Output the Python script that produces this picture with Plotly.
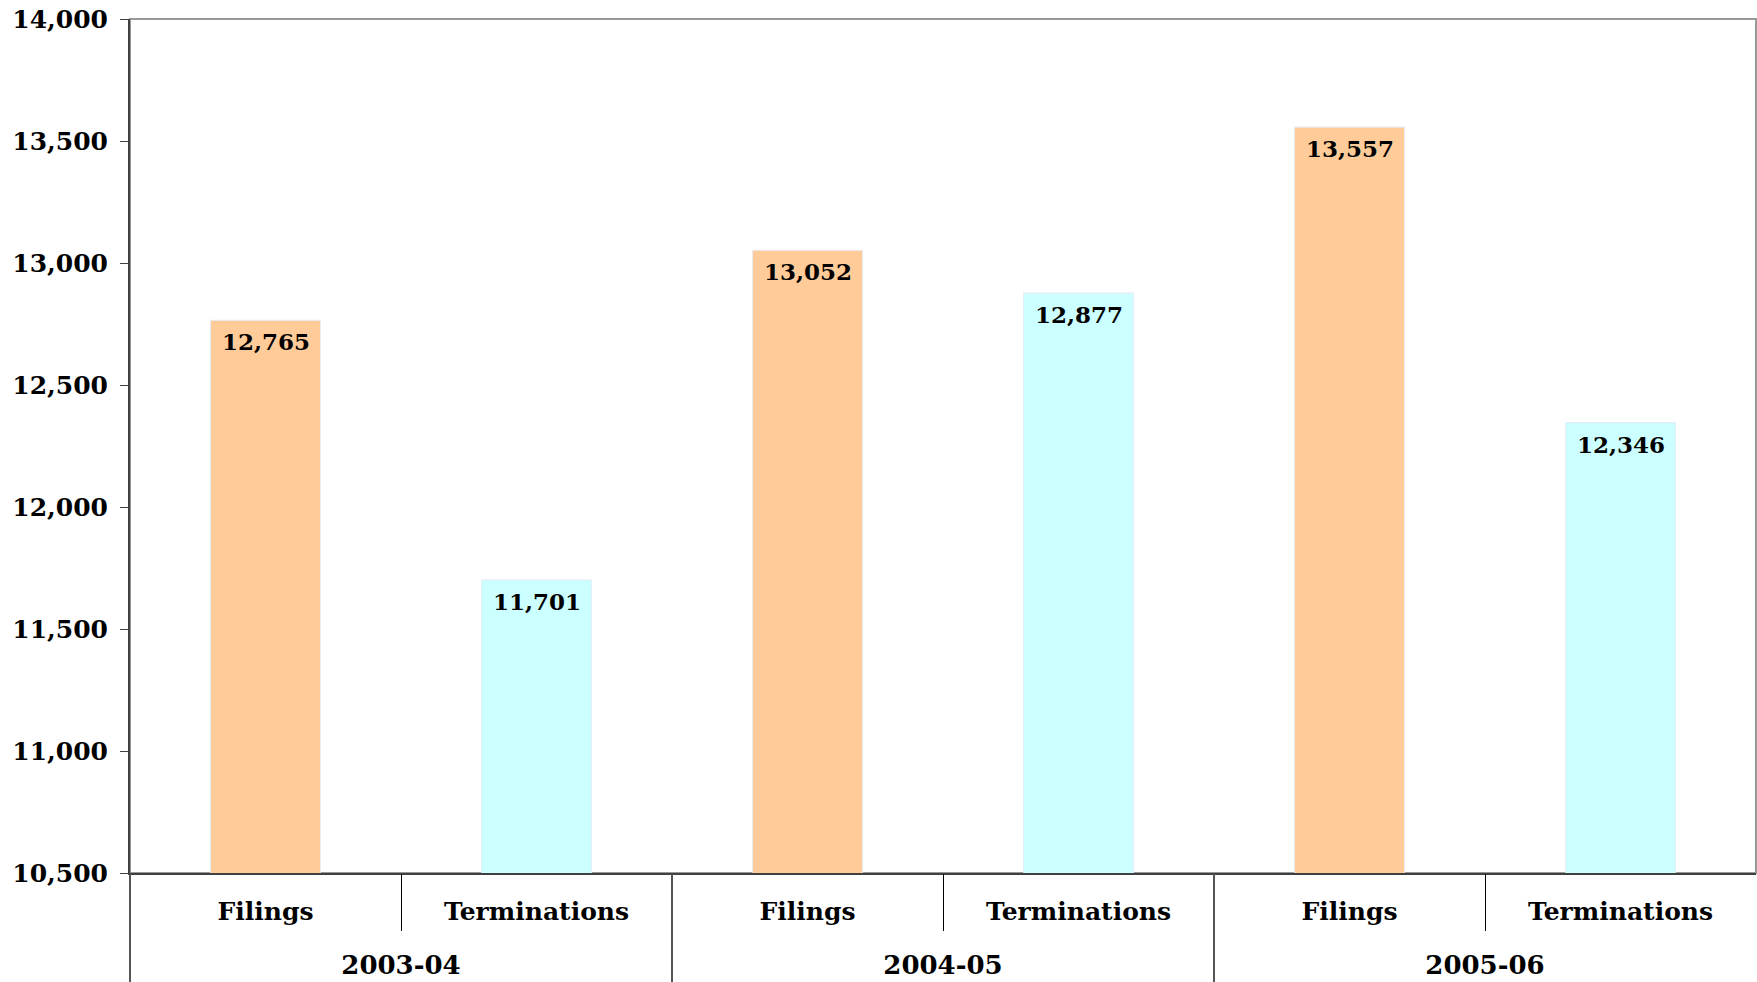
import plotly.graph_objects as go

years = ["2003-04", "2004-05", "2005-06"]
kinds = ["Filings", "Terminations"]
filings = [12765, 13052, 13557]
terminations = [11701, 12877, 12346]
y_range = [10500, 14000]

FONT = "DejaVu Serif"
ORANGE, CYAN = "#FFCC99", "#CCFFFF"

# flatten into 6 bars: each year -> Filings, Terminations
values, labels, colors = [], [], []
for f, t in zip(filings, terminations):
    values += [f, t]
    labels += kinds
    colors += [ORANGE, CYAN]
pos = list(range(len(values)))
n_in = len(kinds)
group_centers = [g * n_in + (n_in - 1) / 2 for g in range(len(years))]
inner_bounds = [g * n_in + k + 0.5 for g in range(len(years)) for k in range(n_in - 1)]
group_bounds = [g * n_in - 0.5 for g in range(len(years))]
x_range = [-0.5, len(values) - 0.5]

fig = go.Figure()
fig.add_trace(go.Bar(
    x=pos, y=values,
    marker=dict(color=colors, line=dict(width=0)),
    showlegend=False,
))
for ax in ["x2", "x3", "x4"]:
    fig.add_trace(go.Bar(x=pos, y=values, xaxis=ax, marker=dict(color="rgba(0,0,0,0)"),
                         hoverinfo="skip", showlegend=False))

# value labels just inside the top of each bar
for p, v in zip(pos, values):
    fig.add_annotation(x=p, y=v, xref="x", yref="y", text=f"{v:,}", showarrow=False,
                       yanchor="top", yshift=-6,
                       font=dict(family=FONT, size=23, color="black", weight="bold"))

common = dict(range=x_range, showgrid=False, zeroline=False, automargin=False)
fig.update_layout(
    width=1757, height=982,
    margin=dict(l=130, r=1, t=19, b=109),
    paper_bgcolor="white", plot_bgcolor="white",
    bargap=0.594,
    font=dict(family=FONT, color="black"),
    xaxis=dict(**common, tickmode="array", tickvals=pos, ticktext=labels,
               showline=True, linecolor="#404040", linewidth=2, ticks="",
               tickfont=dict(family=FONT, size=25, color="black", weight="bold"),
               ticklabelstandoff=15),
    xaxis2=dict(**common, overlaying="x", side="bottom", tickmode="array",
                tickvals=group_centers, ticktext=years, ticks="", showline=False,
                tickfont=dict(family=FONT, size=26, color="black", weight="bold"),
                ticklabelstandoff=74),
    xaxis3=dict(**common, overlaying="x", side="bottom", tickmode="array",
                tickvals=inner_bounds, showticklabels=False, showline=False,
                ticks="outside", ticklen=57, tickcolor="black", tickwidth=1),
    xaxis4=dict(**common, overlaying="x", side="bottom", tickmode="array",
                tickvals=group_bounds, showticklabels=False, showline=False,
                ticks="outside", ticklen=109, tickcolor="#555555", tickwidth=2),
    yaxis=dict(
        range=y_range, dtick=500, tickformat=",", automargin=False,
        showline=True, linecolor="#404040", linewidth=2,
        ticks="outside", ticklen=8, tickcolor="#404040", tickwidth=1,
        showgrid=False, zeroline=False,
        tickfont=dict(family=FONT, size=25, color="black", weight="bold"),
        ticklabelstandoff=7,
    ),
    shapes=[dict(type="rect", xref="paper", yref="paper", x0=0, x1=1, y0=0, y1=1,
                 line=dict(color="#999999", width=2), fillcolor="rgba(0,0,0,0)",
                 layer="below")],
)

fig.write_html("out.html", config={"displayModeBar": False},
               post_script="document.body.style.margin='0px';document.body.style.overflow='hidden';")
